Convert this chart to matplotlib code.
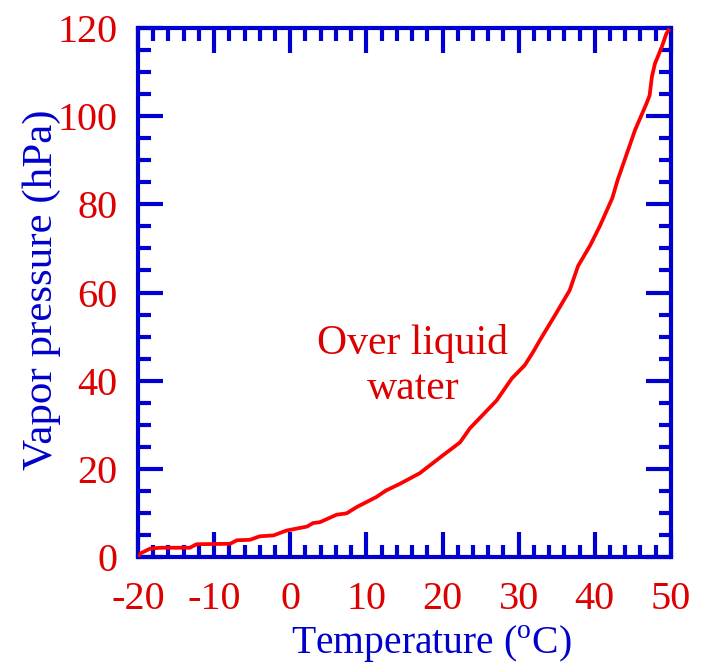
import numpy as np
import matplotlib.pyplot as plt
from matplotlib.ticker import MultipleLocator

plt.rcParams['font.family'] = ['Liberation Serif', 'DejaVu Serif']
plt.rcParams['mathtext.fontset'] = 'custom'
plt.rcParams['mathtext.rm'] = 'Liberation Serif'
plt.rcParams['axes.unicode_minus'] = False

# Saturation vapour pressure over liquid water
temp = [-20.0, -19.7, -18.4, -17.1, -13.2, -12.3, -7.9, -7.0, -5.3, -4.0, -2.2,
        -0.5, 2.2, 3.0, 3.9, 6.1, 7.4, 8.7, 11.3, 12.6, 14.4, 17.0, 20.0, 22.3,
        23.6, 27.1, 29.1, 30.8, 31.9, 32.8, 35.0, 36.7, 37.8, 39.4, 40.7, 42.3,
        43.0, 45.3, 46.8, 47.2, 47.5, 47.9, 48.8, 49.4, 49.7]
pres = [0.1, 0.8, 1.9, 2.1, 2.1, 2.9, 3.0, 3.8, 3.9, 4.7, 4.9,
        6.0, 6.9, 7.7, 7.9, 9.6, 9.9, 11.3, 13.6, 15.1, 16.6, 19.0, 23.0, 26.0,
        29.2, 35.5, 40.5, 43.5, 46.5, 49.2, 55.5, 60.5, 66.0, 70.7, 75.2, 81.4,
        85.5, 96.9, 102.9, 104.7, 108.9, 111.9, 115.7, 118.7, 119.5]

xticks = [-20, -10, 0, 10, 20, 30, 40, 50]
xticklabels = ['-20', '-10', '0', '10', '20', '30', '40', '50']
yticks = [0, 20, 40, 60, 80, 100, 120]

blue = '#0000d0'
red = '#dd0000'

fig = plt.figure(figsize=(7.04, 6.65), dpi=100)
ax = fig.add_axes([0.196, 0.1624, 0.757, 0.7955])

ax.plot(temp, pres, color='#ff0000', lw=2.7, zorder=3)

ax.set_xlim(-20, 50)
ax.set_ylim(0, 120)
ax.set_xticks(xticks)
ax.set_xticklabels(xticklabels)
ax.set_yticks(yticks)
ax.xaxis.set_minor_locator(MultipleLocator(2))
ax.yaxis.set_minor_locator(MultipleLocator(5))

for s in ax.spines.values():
    s.set_color(blue)
    s.set_linewidth(3)

ax.tick_params(which='both', direction='in', top=True, right=True,
               color=blue, width=3, labelcolor=red, labelsize=29)
ax.tick_params(which='major', length=18)
ax.tick_params(which='minor', length=9)
ax.tick_params(axis='x', which='major', pad=17)
ax.tick_params(axis='y', which='major', pad=15)

ax.set_xlabel(r'Temperature ($^{\rm o}$C)', color='#0000cc', fontsize=28.5)
ax.set_ylabel('Vapor pressure (hPa)', color='#0000cc', fontsize=31)
ax.xaxis.set_label_coords(0.55, -0.124)
ax.yaxis.set_label_coords(-0.145, 0.505)

ax.text(0.516, 0.361, 'Over liquid\nwater', transform=ax.transAxes, ha='center',
        va='center', color=red, fontsize=30, linespacing=1.25)

fig.savefig('out.png', dpi=100)
